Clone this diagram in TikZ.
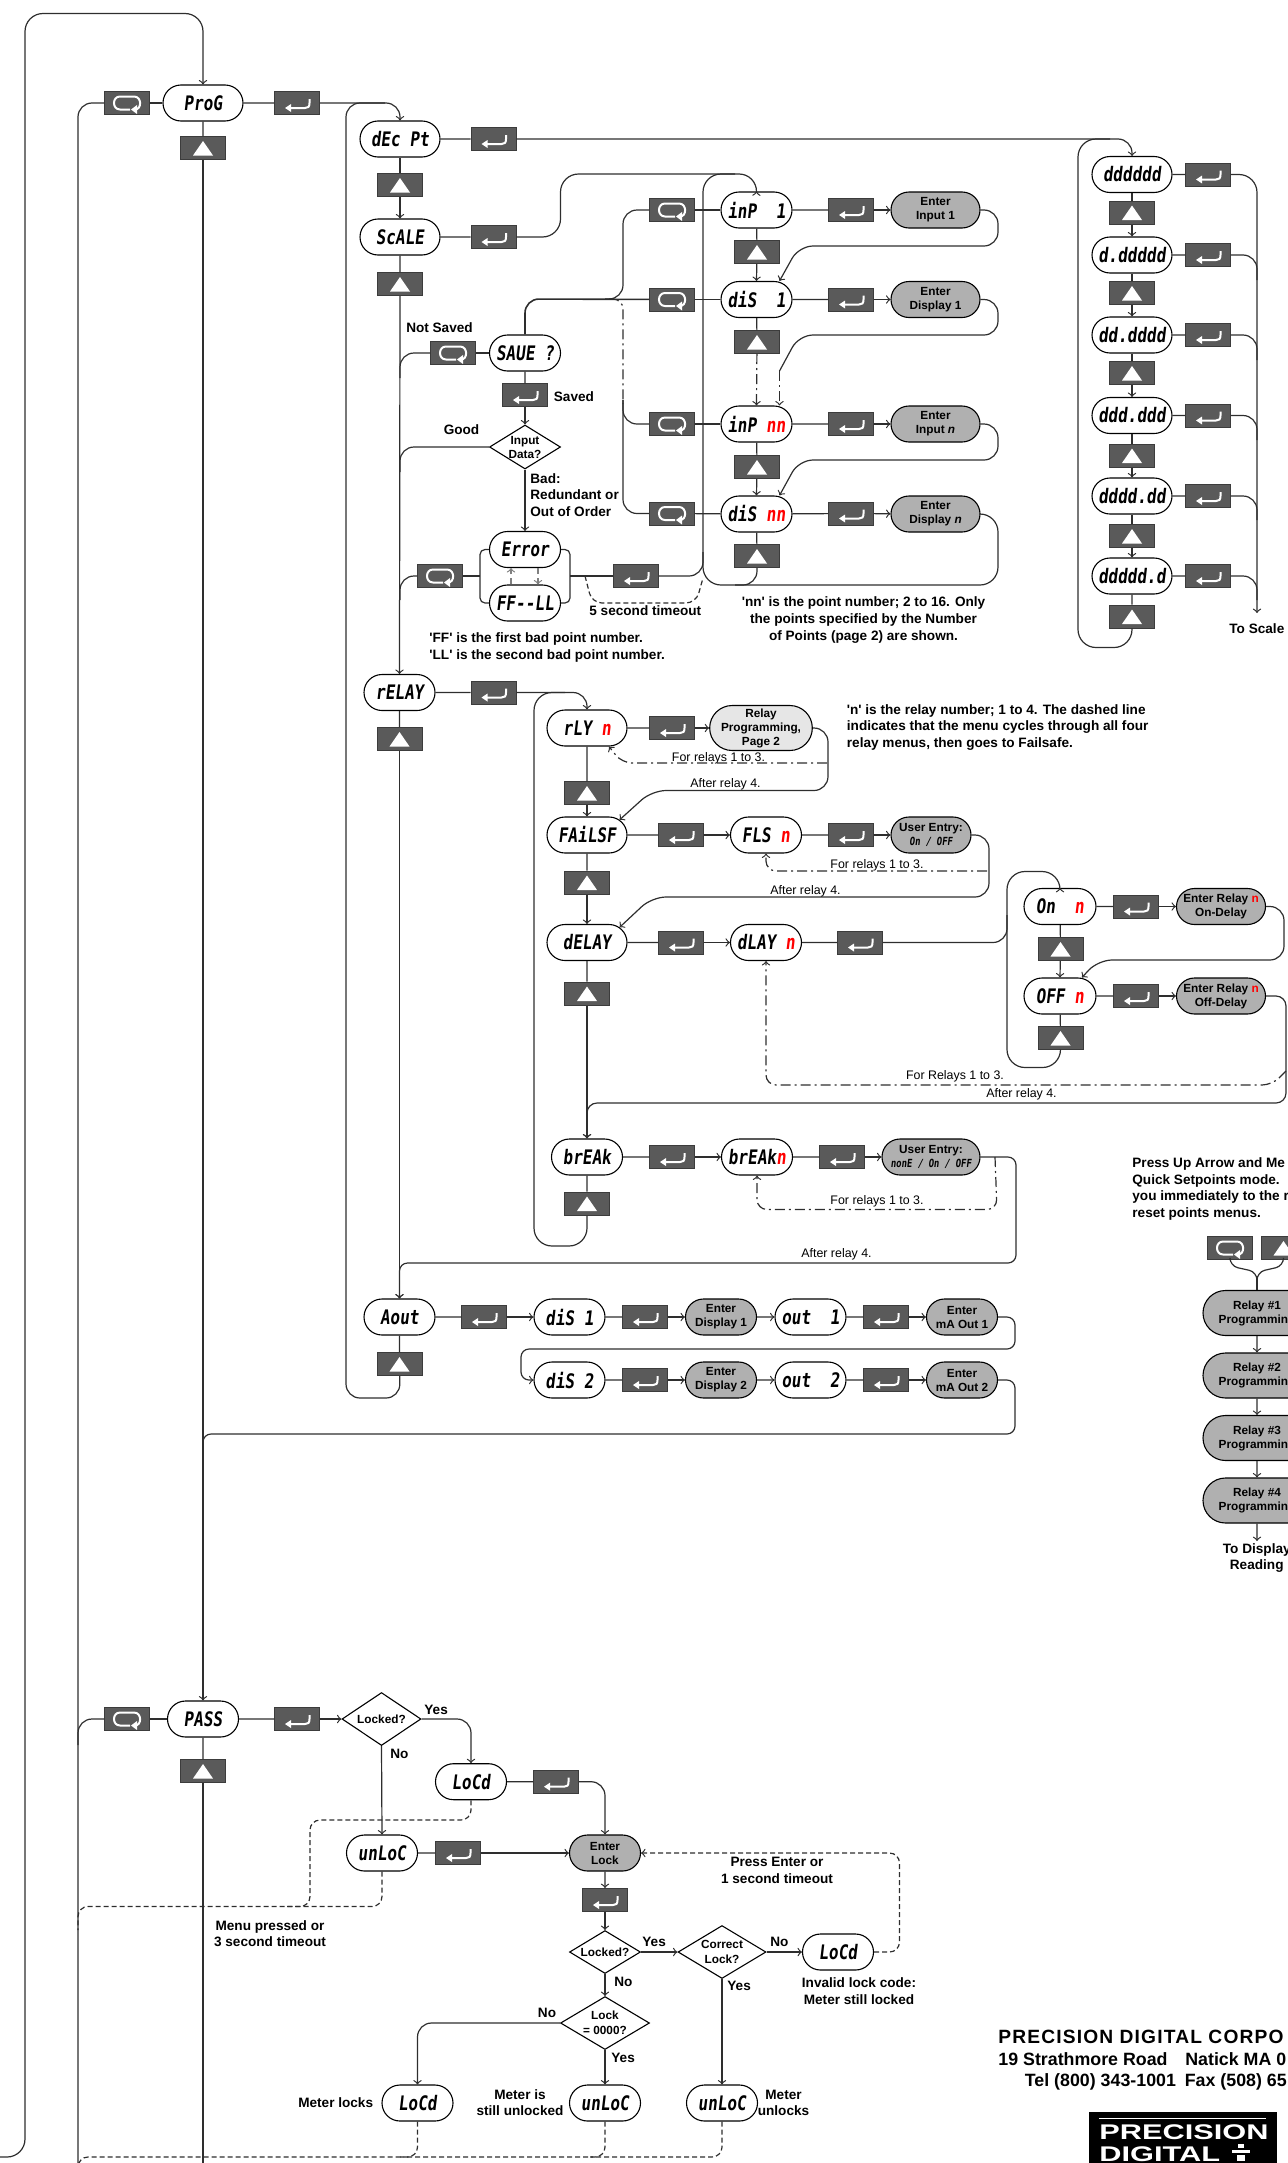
\documentclass[tikz,border=0pt]{standalone}
\usepackage{fontspec}
\setmainfont{Liberation Sans}
\newfontfamily\lcdfont[FakeSlant=0.12,FakeStretch=0.8]{DejaVu Sans Mono}
\newfontfamily\logofont[FakeStretch=1.45]{Liberation Sans}
\newfontfamily\corpfont[LetterSpace=6]{Liberation Sans}
\usetikzlibrary{shapes.misc,shapes.geometric}
\definecolor{keygray}{HTML}{5A5A5A}
\definecolor{keyedge}{HTML}{3C3C3C}
\definecolor{pillgray}{HTML}{B0B0B0}
\definecolor{pilllight}{HTML}{E6E6E6}
\definecolor{linegray}{HTML}{2E2E2E}
\tikzset{
    keybox/.style={draw=keyedge,fill=keygray,line width=.5pt,inner sep=0pt,minimum width=22.5pt,minimum height=11.5pt},
    enterkey/.style={keybox,path picture={\begin{scope}[shift={(path picture bounding box.center)}]
        \draw[white,line width=1pt] (12.5,-4) -- (12.5,0) .. controls (12.5,4) and (11,5) .. (8,5) -- (-7,5);
        \fill[white] (-12,5) -- (-6,1) -- (-6,9) -- cycle;
        \end{scope}}},
    menukey/.style={keybox,path picture={\begin{scope}[shift={(path picture bounding box.center)}]
        \draw[white,line width=1pt] (3,6.5) -- (-7,6.5) .. controls (-15,6.5) and (-15,-6.5) .. (-7,-6.5) -- (7,-6.5) .. controls (15,-6.5) and (15,6.5) .. (8,6.5);
        \fill[white] (4,6.5) -- (10,2) -- (10,11) -- cycle;
        \end{scope}}},
    upkey/.style={keybox,path picture={\begin{scope}[shift={(path picture bounding box.center)}]
        \fill[white] (-10,7.5) -- (10,7.5) -- (0,-7) -- cycle;
        \end{scope}}},
    pill/.style={draw=black,fill=white,line width=.55pt,rounded rectangle,inner sep=0pt,minimum width=35.5pt,minimum height=18pt,font=\lcdfont\bfseries\fontsize{10}{10}\selectfont},
    pillwide/.style={pill,minimum width=40pt},
    entry/.style={draw=black,fill=pillgray,line width=.55pt,rounded rectangle,inner sep=0pt,minimum width=44.5pt,minimum height=18pt,align=center,font=\bfseries\fontsize{5.9}{7}\selectfont},
    decision/.style={draw=black,fill=white,line width=.55pt,diamond,inner sep=0pt},
    note/.style={inner sep=0pt,align=center,font=\bfseries\fontsize{6.8}{8.3}\selectfont},
    noteleft/.style={note,anchor=west,align=left},
    smalltext/.style={inner sep=0pt,font=\fontsize{6.2}{7}\selectfont},
    conn/.style={draw=linegray,line width=.6pt},
    bendconn/.style={conn,rounded corners=7pt},
    dotconn/.style={bendconn,rounded corners=5pt,dash pattern=on 5pt off 2pt on 1pt off 2pt},
    dashconn/.style={bendconn,rounded corners=5pt,dash pattern=on 2.5pt off 1.5pt}
}
\newcommand{\lcdsmall}{\lcdfont\fontsize{5.6}{7}\selectfont}
\newcommand{\qs}{\textquotesingle}
\begin{document}
\begin{tikzpicture}[x=.5pt,y=-.5pt]
    \useasboundingbox (0,0) rectangle (1287,2163);
    %Program entry and left column
    \node[pillwide] (prog) at (203,103) {ProG};
    \node[menukey] (mnuprog) at (127,103) {};
    \node[enterkey] (entprog) at (297,103) {};
    \node[upkey] (upprog) at (203,148) {};
    \node[pillwide] (decpt) at (400,139) {dEc~Pt};
    \node[enterkey] (entdec) at (493.5,139) {};
    \node[upkey] (updec) at (400,185) {};
    \node[pillwide] (scale) at (400,237) {ScALE};
    \node[enterkey] (entscale) at (493.5,237) {};
    \node[upkey] (upscale) at (400,284) {};
    \node[pill] (save) at (525,353) {SAUE~?};
    \node[menukey] (mnusave) at (453,353) {};
    \node[enterkey] (entsave) at (525,395) {};
    \node[decision,minimum width=35.5pt,minimum height=22pt,label={[note,font=\bfseries\fontsize{5.9}{7}\selectfont]center:Input\\Data?}] (inputq) at (525,447) {};
    \node[pill] (error) at (525,549.5) {Error};
    \node[pill] (ffll) at (525,603) {FF--LL};
    \node[menukey] (mnuerr) at (440,576) {};
    \node[enterkey] (enterr) at (636,576) {};
    \coordinate (brleft) at (480,576);
    \coordinate (brright) at (570,576);

    %Scale points
    \node[pill] (inpone) at (756.5,210) {inP~~1};
    \node[pill] (disone) at (756.5,299.5) {diS~~1};
    \node[pill] (inpnn) at (756.5,424) {inP~\textcolor{red}{nn}};
    \node[pill] (disnn) at (756.5,514) {diS~\textcolor{red}{nn}};
    \node[menukey] (mnuinpone) at (672,210) {};
    \node[menukey] (mnudisone) at (672,299.5) {};
    \node[menukey] (mnuinpnn) at (672,424) {};
    \node[menukey] (mnudisnn) at (672,513.5) {};
    \node[enterkey] (entinpone) at (851,210) {};
    \node[enterkey] (entdisone) at (851,299.5) {};
    \node[enterkey] (entinpnn) at (851,424) {};
    \node[enterkey] (entdisnn) at (851,513.5) {};
    \node[entry] (ginpone) at (935.5,210) {Enter\\Input 1};
    \node[entry] (gdisone) at (935.5,299.5) {Enter\\Display 1};
    \node[entry] (ginpnn) at (935.5,424) {Enter\\Input \textit{n}};
    \node[entry] (gdisnn) at (935.5,514) {Enter\\Display \textit{n}};
    \node[upkey] (upinpone) at (757,252) {};
    \node[upkey] (updisone) at (757,342) {};
    \node[upkey] (upinpnn) at (757,467) {};
    \node[upkey] (updisnn) at (757,556) {};
    \coordinate (midpoint) at (779.5,371);

    %Decimal point column
    \node[pillwide] (dpa) at (1132,174.5) {dddddd};
    \node[pillwide] (dpb) at (1132,255) {d.ddddd};
    \node[pillwide] (dpc) at (1132,335) {dd.dddd};
    \node[pillwide] (dpd) at (1132,415.5) {ddd.ddd};
    \node[pillwide] (dpe) at (1132,496) {dddd.dd};
    \node[pillwide] (dpf) at (1132,576) {ddddd.d};
    \node[upkey] (updpa) at (1132,212.5) {};
    \node[upkey] (updpb) at (1132,293) {};
    \node[upkey] (updpc) at (1132,373) {};
    \node[upkey] (updpd) at (1132,455.5) {};
    \node[upkey] (updpe) at (1132,536) {};
    \node[upkey] (updpf) at (1132,616.5) {};
    \node[enterkey] (entdpa) at (1208,174.5) {};
    \node[enterkey] (entdpb) at (1208,255) {};
    \node[enterkey] (entdpc) at (1208,335) {};
    \node[enterkey] (entdpd) at (1208,415.5) {};
    \node[enterkey] (entdpe) at (1208,496) {};
    \node[enterkey] (entdpf) at (1208,576) {};
    \coordinate (scaleout) at (1257,613);

    %Relay menus
    \node[pill] (relay) at (399.5,692.5) {rELAY};
    \node[enterkey] (entrelay) at (493.5,692.5) {};
    \node[upkey] (uprelay) at (399.5,739) {};
    \node[pillwide] (rly) at (587,728) {rLY~\textcolor{red}{n}};
    \node[enterkey] (entrly) at (672,728) {};
    \node[entry,fill=pilllight,minimum width=49.5pt,minimum height=22.5pt] (gprog) at (761,728) {Relay\\Programming,\\Page 2};
    \node[upkey] (uprly) at (587,793) {};
    \node[pillwide] (fail) at (587,835) {FAiLSF};
    \node[enterkey] (entfail) at (681,835) {};
    \node[pill] (fls) at (766,835) {FLS~\textcolor{red}{n}};
    \node[enterkey] (entfls) at (851,835) {};
    \node[entry,minimum width=40pt] (guserone) at (931,835) {User Entry:\\{\lcdsmall\bfseries On / OFF}};
    \node[upkey] (upfail) at (587,882.5) {};
    \node[pillwide] (delay) at (587,942.5) {dELAY};
    \node[enterkey] (entdelay) at (681,942.5) {};
    \node[pill] (dlay) at (766,942.5) {dLAY~\textcolor{red}{n}};
    \node[enterkey] (entdlay) at (860,942.5) {};
    \node[upkey] (updelay) at (587,993.5) {};
    \node[pillwide,minimum width=36pt] (on) at (1060,906.5) {On~~\textcolor{red}{n}};
    \node[enterkey] (enton) at (1136,906.5) {};
    \node[entry] (gon) at (1221,906.5) {Enter Relay \textcolor{red}{n}\\On-Delay};
    \node[upkey] (upon) at (1060.5,949) {};
    \node[pillwide,minimum width=36pt] (off) at (1060,996) {OFF~\textcolor{red}{n}};
    \node[enterkey] (entoff) at (1136,996) {};
    \node[entry] (goff) at (1221,996) {Enter Relay \textcolor{red}{n}\\Off-Delay};
    \node[upkey] (upoff) at (1060.5,1038) {};
    \node[pill] (breaky) at (587,1157) {brEAk};
    \node[enterkey] (entbreak) at (672,1157) {};
    \node[pill] (brk) at (757,1157) {brEAk\textcolor{red}{n}};
    \node[enterkey] (entbrk) at (842,1157) {};
    \node[entry,minimum width=49pt] (gusertwo) at (931,1157) {User Entry:\\{\lcdsmall\bfseries nonE / On / OFF}};
    \node[upkey] (upbreak) at (587,1203.5) {};

    %Analog output
    \node[pill] (aout) at (399.5,1317) {Aout};
    \node[enterkey] (entaout) at (484,1317) {};
    \node[upkey] (upaout) at (399.5,1364) {};
    \node[pill] (disa) at (569.5,1317) {diS~1};
    \node[enterkey] (entdisa) at (645,1317) {};
    \node[entry,minimum width=35.5pt] (gdisa) at (721,1317) {Enter\\Display 1};
    \node[pill] (outa) at (810.5,1317) {out~~1};
    \node[enterkey] (entouta) at (886,1317) {};
    \node[entry,minimum width=35.5pt] (gmaone) at (962,1317) {Enter\\mA Out 1};
    \node[pill] (disb) at (569.5,1380) {diS~2};
    \node[enterkey] (entdisb) at (645,1380) {};
    \node[entry,minimum width=35.5pt] (gdisb) at (721,1380) {Enter\\Display 2};
    \node[pill] (outb) at (810.5,1380) {out~~2};
    \node[enterkey] (entoutb) at (886,1380) {};
    \node[entry,minimum width=35.5pt] (gmatwo) at (962,1380) {Enter\\mA Out 2};

    %Password
    \node[pill] (pass) at (203,1719) {PASS};
    \node[menukey] (mnupass) at (127,1719) {};
    \node[enterkey] (entpass) at (297,1719) {};
    \node[upkey] (uppass) at (203,1771) {};
    \node[decision,minimum width=39.5pt,minimum height=26.5pt,label={[note,font=\bfseries\fontsize{5.9}{7}\selectfont]center:Locked?}] (lockq) at (381.5,1719) {};
    \node[pill] (lockd) at (471,1781.7) {LoCd};
    \node[enterkey] (entlockd) at (556,1781.7) {};
    \node[pill] (unlock) at (382,1853) {unLoC};
    \node[enterkey] (entunlock) at (458,1853) {};
    \node[entry,minimum width=35.5pt] (enterlock) at (605,1853) {Enter\\Lock};
    \node[enterkey] (entlock) at (605,1900) {};
    \node[decision,minimum width=35.5pt,minimum height=21.5pt,label={[note,font=\bfseries\fontsize{5.9}{7}\selectfont]center:Locked?}] (lockqb) at (605,1952) {};
    \node[decision,minimum width=44.5pt,minimum height=26.5pt,label={[note,font=\bfseries\fontsize{5.9}{7.5}\selectfont]center:Lock\\= 0000?}] (zeroq) at (605,2023) {};
    \node[decision,minimum width=44pt,minimum height=26.5pt,label={[note,font=\bfseries\fontsize{5.9}{7.5}\selectfont]center:Correct\\Lock?}] (correctq) at (722,1952) {};
    \node[pill] (lockdc) at (838,1952) {LoCd};
    \node[pill] (lockdb) at (417.5,2103) {LoCd};
    \node[pill] (unlockb) at (605,2103) {unLoC};
    \node[pill] (unlockc) at (722,2103) {unLoC};

    %Quick setpoints
    \node[menukey] (mnuquick) at (1230,1248) {};
    \node[upkey] (upquick) at (1283.5,1248) {};
    \node[entry,minimum width=54pt,minimum height=22.5pt] (relone) at (1257,1313) {Relay \#1\\Programmin\phantom{g}};
    \node[entry,minimum width=54pt,minimum height=22.5pt] (reltwo) at (1257,1375.5) {Relay \#2\\Programmin\phantom{g}};
    \node[entry,minimum width=54pt,minimum height=22.5pt] (relthree) at (1257,1438) {Relay \#3\\Programmin\phantom{g}};
    \node[entry,minimum width=54pt,minimum height=22.5pt] (relfour) at (1257,1500.5) {Relay \#4\\Programmin\phantom{g}};
    \coordinate (display) at (1257,1541);
    \coordinate (quickjoin) at (1257,1277);

    %Free ends
    \coordinate (outerend) at (0,2157);
    \coordinate (menubus) at (78,2163);
    \coordinate (passbus) at (203,2163);

    %Connectors, top loop and left column
    \draw[bendconn,rounded corners=9pt,->] (outerend) -- (25,2157) -- (25,13.5) -- (203,13.5) -- (prog.north);
    \draw[conn] (prog) -- (mnuprog);
    \draw[bendconn] (mnuprog) -- (78,103) -- (menubus);
    \draw[conn] (prog) -- (entprog);
    \draw[conn] (prog) -- (upprog);
    \draw[conn,->] (upprog) -- (pass.north);
    \draw[bendconn,->] (entprog) -- (400,103) -- (decpt.north);
    \draw[bendconn] (upaout) -- (400,1398) -- (346,1398) -- (346,103) -- (385,103);
    \draw[conn] (decpt) -- (entdec);
    \draw[bendconn,->] (entdec) -- (1132,139) -- (dpa.north);
    \draw[conn] (decpt) -- (updec);
    \draw[conn,->] (updec) -- (scale.north);
    \draw[conn] (scale) -- (entscale);
    \draw[bendconn,rounded corners=9pt,->] (entscale) -- (560.5,237) -- (560.5,174) -- (757,174) -- (inpone.north);
    \draw[conn] (scale) -- (upscale);
    \draw[conn,->] (upscale) -- (relay.north);
    \draw[conn] (relay) -- (uprelay);
    \draw[conn,->] (uprelay) -- (aout.north);

    %Connectors, scale save
    \draw[bendconn,line width=.8pt] (save) -- (525,299) -- (mnudisone);
    \draw[bendconn] (mnuinpone) -- (623,210) -- (623,299) -- (605,299);
    \draw[dotconn] (609,299) -- (623,299) -- (623,404);
    \draw[bendconn] (623,400) -- (623,424) -- (mnuinpnn);
    \draw[bendconn] (623,400) -- (623,513.5) -- (mnudisnn);
    \draw[conn] (save) -- (mnusave);
    \draw[bendconn] (mnusave) -- (400,353) -- (400,378);
    \draw[conn] (save) -- (entsave);
    \draw[conn,->] (entsave) -- (inputq.north);
    \draw[conn,->] (inputq) -- (error.north);
    \draw[bendconn] (inputq) -- (400,447) -- (400,472);
    \draw[bendconn,rounded corners=2.5pt] (error.west) -- (480,549.5) -- (480,603) -- (ffll.west);
    \draw[bendconn,rounded corners=2.5pt] (error.east) -- (570,549.5) -- (570,603) -- (ffll.east);
    \draw[conn] (mnuerr) -- (brleft);
    \draw[bendconn] (mnuerr) -- (400,576) -- (400,600);
    \draw[conn] (brright) -- (enterr);
    \draw[bendconn] (enterr) -- (703,576) -- (703,552);
    \draw[dashconn] (585,576) -- (592,603) -- (696,603) -- (703,578);
    \draw[conn,gray,densely dashed,->] ([xshift=-7pt]ffll.north) -- ([xshift=-7pt]error.south);
    \draw[conn,gray,densely dashed,->] ([xshift=6.5pt]error.south) -- ([xshift=6.5pt]ffll.north);

    %Connectors, scale points
    \draw[conn] (mnuinpone) -- (inpone);
    \draw[conn] (mnudisone) -- (disone);
    \draw[conn] (mnuinpnn) -- (inpnn);
    \draw[conn] (mnudisnn) -- (disnn);
    \draw[conn] (inpone) -- (entinpone);
    \draw[conn] (disone) -- (entdisone);
    \draw[conn] (inpnn) -- (entinpnn);
    \draw[conn] (disnn) -- (entdisnn);
    \draw[conn,->] (entinpone) -- (ginpone);
    \draw[conn,->] (entdisone) -- (gdisone);
    \draw[conn,->] (entinpnn) -- (ginpnn);
    \draw[conn,->] (entdisnn) -- (gdisnn);
    \draw[conn] (inpone) -- (upinpone);
    \draw[conn,->] (upinpone) -- (disone.north);
    \draw[conn] (disone) -- (updisone);
    \draw[dotconn,->] (updisone) -- (inpnn.north);
    \draw[conn] (inpnn) -- (upinpnn);
    \draw[conn,->] (upinpnn) -- (disnn.north);
    \draw[conn] (disnn) -- (updisnn);
    \draw[bendconn] (updisnn) -- (757,585) -- (735,585);
    \draw[bendconn,->] (ginpone.east) -- (998,210) -- (998,246) -- (799,246) -- ([xshift=11.5pt]disone.north);
    \draw[bendconn] (gdisone.east) -- (998,299.5) -- (998,335) -- (799,335) -- (midpoint);
    \draw[dotconn,->] (midpoint) -- ([xshift=11.5pt]inpnn.north);
    \draw[bendconn,->] (ginpnn.east) -- (998,424) -- (998,460) -- (799,460) -- ([xshift=11.5pt]disnn.north);
    \draw[bendconn,rounded corners=9pt] (gdisnn.east) -- (998,514) -- (998,585) -- (703,585) -- (703,174) -- (735,174);

    %Connectors, decimal point column
    \draw[conn] (dpa) -- (updpa);
    \draw[conn,->] (updpa) -- (dpb.north);
    \draw[conn] (dpb) -- (updpb);
    \draw[conn,->] (updpb) -- (dpc.north);
    \draw[conn] (dpc) -- (updpc);
    \draw[conn,->] (updpc) -- (dpd.north);
    \draw[conn] (dpd) -- (updpd);
    \draw[conn,->] (updpd) -- (dpe.north);
    \draw[conn] (dpe) -- (updpe);
    \draw[conn,->] (updpe) -- (dpf.north);
    \draw[conn] (dpf) -- (updpf);
    \draw[conn] (dpa) -- (entdpa);
    \draw[conn] (dpb) -- (entdpb);
    \draw[conn] (dpc) -- (entdpc);
    \draw[conn] (dpd) -- (entdpd);
    \draw[conn] (dpe) -- (entdpe);
    \draw[conn] (dpf) -- (entdpf);
    \draw[bendconn,rounded corners=9pt,->] (entdpa) -- (1257,174.5) -- (scaleout);
    \draw[bendconn] (entdpb) -- (1257,255) -- (1257,280);
    \draw[bendconn] (entdpc) -- (1257,335) -- (1257,360);
    \draw[bendconn] (entdpd) -- (1257,415.5) -- (1257,440);
    \draw[bendconn] (entdpe) -- (1257,496) -- (1257,520);
    \draw[bendconn] (entdpf) -- (1257,576) -- (1257,600);
    \draw[bendconn,rounded corners=9pt] (updpf) -- (1132,647.5) -- (1078,647.5) -- (1078,139) -- (1110,139);

    %Connectors, relay menus
    \draw[conn] (relay) -- (entrelay);
    \draw[bendconn,->] (entrelay) -- (587,692.5) -- (rly.north);
    \draw[bendconn,rounded corners=9pt] (upbreak) -- (587,1246) -- (534,1246) -- (534,692.5) -- (565,692.5);
    \draw[conn] (rly) -- (uprly);
    \draw[conn,->] (uprly) -- (fail.north);
    \draw[conn] (fail) -- (upfail);
    \draw[conn,->] (upfail) -- (delay.north);
    \draw[conn] (delay) -- (updelay);
    \draw[conn,->] (updelay) -- (breaky.north);
    \draw[conn] (breaky) -- (upbreak);
    \draw[conn] (rly) -- (entrly);
    \draw[conn,->] (entrly) -- (gprog);
    \draw[bendconn,->] (gprog.east) -- (828,728) -- (828,790.5) -- (652,790.5) -- (fail.25);
    \draw[dotconn,->] (827,763) -- (622,763) -- ([xshift=11pt]rly.south);
    \draw[conn] (fail) -- (entfail);
    \draw[conn,->] (entfail) -- (fls);
    \draw[conn] (fls) -- (entfls);
    \draw[conn,->] (entfls) -- (guserone);
    \draw[bendconn,->] (guserone.east) -- (989,835) -- (989,897) -- (652,897) -- (delay.25);
    \draw[dotconn,->] (987,871) -- (766,871) -- (fls.south);
    \draw[conn] (delay) -- (entdelay);
    \draw[conn,->] (entdelay) -- (dlay);
    \draw[conn] (dlay) -- (entdlay);
    \draw[bendconn] (entdlay) -- (1007,942.5) -- (1007,915);
    \draw[bendconn,rounded corners=9pt,->] (upoff) -- (1060.5,1067.5) -- (1007,1067.5) -- (1007,871.5) -- (1060,871.5) -- (on.north);
    \draw[conn] (on) -- (upon);
    \draw[conn,->] (upon) -- (off.north);
    \draw[conn] (off) -- (upoff);
    \draw[conn] (on) -- (enton);
    \draw[conn,->] (enton) -- (gon);
    \draw[conn] (off) -- (entoff);
    \draw[conn,->] (entoff) -- (goff);
    \draw[bendconn,->] (gon.east) -- (1284,906.5) -- (1284,960) -- (1098,960) -- ([xshift=11pt]off.north);
    \draw[bendconn,rounded corners=5pt,->] (goff.east) -- (1286,996) -- (1286,1103) -- (587,1103) -- (breaky.north);
    \draw[dotconn,->] (1286,1071) -- (1272,1085) -- (766,1085) -- (dlay.south);
    \draw[conn] (breaky) -- (entbreak);
    \draw[conn,->] (entbreak) -- (brk);
    \draw[conn] (brk) -- (entbrk);
    \draw[conn,->] (entbrk) -- (gusertwo);
    \draw[bendconn,rounded corners=4pt,->] (gusertwo.east) -- (1016,1157) -- (1016,1263) -- (399.5,1263) -- (aout.north);
    \draw[dotconn,->] (995,1157) -- (997,1209.5) -- (757,1209.5) -- (brk.south);

    %Connectors, analog output
    \draw[conn] (aout) -- (entaout);
    \draw[conn,->] (entaout) -- (disa);
    \draw[conn] (disa) -- (entdisa);
    \draw[conn,->] (entdisa) -- (gdisa);
    \draw[conn,->] (gdisa) -- (outa);
    \draw[conn] (outa) -- (entouta);
    \draw[conn,->] (entouta) -- (gmaone);
    \draw[conn] (aout) -- (upaout);
    \draw[bendconn,rounded corners=4pt,->] (gmaone.east) -- (1015,1317) -- (1015,1349) -- (521,1349) -- (521,1380) -- (disb.west);
    \draw[conn] (disb) -- (entdisb);
    \draw[conn,->] (entdisb) -- (gdisb);
    \draw[conn,->] (gdisb) -- (outb);
    \draw[conn] (outb) -- (entoutb);
    \draw[conn,->] (entoutb) -- (gmatwo);
    \draw[bendconn,rounded corners=4pt] (gmatwo.east) -- (1015,1380) -- (1015,1434) -- (203,1434) -- (203,1470);

    %Connectors, password
    \draw[conn] (pass) -- (mnupass);
    \draw[bendconn] (mnupass) -- (78,1719) -- (78,1745);
    \draw[conn] (pass) -- (uppass);
    \draw[conn] (uppass) -- (passbus);
    \draw[conn] (pass) -- (entpass);
    \draw[conn,->] (entpass) -- (lockq);
    \draw[bendconn,->] (lockq.east) -- (471,1719) -- (lockd.north);
    \draw[conn,->] (lockq.south) -- (unlock.north);
    \draw[conn] (lockd) -- (entlockd);
    \draw[bendconn,->] (entlockd) -- (605,1781.7) -- (enterlock.north);
    \draw[conn] (unlock) -- (entunlock);
    \draw[conn,->] (entunlock) -- (enterlock);
    \draw[conn,->] (enterlock) -- (entlock);
    \draw[conn,->] (entlock) -- (lockqb.north);
    \draw[conn,->] (lockqb.south) -- (zeroq.north);
    \draw[conn,->] (lockqb.east) -- (correctq.west);
    \draw[conn,->] (correctq.east) -- (lockdc.west);
    \draw[conn,->] (correctq.south) -- (unlockc.north);
    \draw[bendconn,->] (zeroq.west) -- (417.5,2023) -- (lockdb.north);
    \draw[conn,->] (zeroq.south) -- (unlockb.north);
    \draw[dashconn,->] (lockdc.east) -- (899.5,1952) -- (899.5,1853) -- (enterlock.east);
    \draw[dashconn] (lockd.south) -- (471,1820) -- (310,1820) -- (310,1906.5) -- (285,1906.5);
    \draw[dashconn] (unlock.south) -- (382,1906.5) -- (78,1906.5) -- (78,1930);
    \draw[dashconn] (lockdb.south) -- (417.5,2157) -- (78,2157) -- (78,2170);
    \draw[dashconn] (unlockb.south) -- (605,2157) -- (400,2157);
    \draw[dashconn] (unlockc.south) -- (722,2157) -- (590,2157);

    %Connectors, quick setpoints
    \draw[bendconn,rounded corners=4pt] (mnuquick.south) -- (1230,1266) -- (1257,1272) -- (quickjoin);
    \draw[bendconn,rounded corners=4pt] (upquick.south) -- (1283.5,1266) -- (1257,1272) -- (quickjoin);
    \draw[conn,line width=1pt] (quickjoin) -- (relone.north);
    \draw[conn,->] (relone) -- (reltwo.north);
    \draw[conn,->] (reltwo) -- (relthree.north);
    \draw[conn,->] (relthree) -- (relfour.north);
    \draw[conn,->] (relfour) -- (display);

    %Labels
    \node[note] (notsaved) at (439.5,328) {Not Saved};
    \node[noteleft] (saved) at (553.5,397) {Saved};
    \node[note] (good) at (461.5,430) {Good};
    \node[noteleft] (bad) at (530,495) {Bad:\\Redundant or\\Out of Order};
    \node[noteleft] (timeout) at (589,611) {5 second timeout};
    \node[noteleft] (ffnote) at (429,647.5) {\qs FF\qs{} is the first bad point number.\\\qs LL\qs{} is the second bad point number.};
    \node[note] (nnnote) at (863.5,620) {\qs nn\qs{} is the point number; 2 to 16. Only\\the points specified by the Number\\of Points (page 2) are shown.};
    \node[noteleft] (toscale) at (1229,629) {To Scale};
    \node[noteleft] (relnote) at (846.5,727.5) {\qs n\qs{} is the relay number; 1 to 4. The dashed line\\indicates that the menu cycles through all four\\relay menus, then goes to Failsafe.};
    \node[smalltext] (fora) at (718.5,758) {For relays 1 to 3.};
    \node[smalltext] (aftera) at (725.5,784) {After relay 4.};
    \node[smalltext] (forb) at (877,865) {For relays 1 to 3.};
    \node[smalltext] (afterb) at (805.5,891) {After relay 4.};
    \node[smalltext] (forc) at (955,1076) {For Relays 1 to 3.};
    \node[smalltext] (afterc) at (1021.5,1094) {After relay 4.};
    \node[smalltext] (ford) at (877,1201) {For relays 1 to 3.};
    \node[smalltext] (afterd) at (836.5,1254.5) {After relay 4.};
    \node[noteleft] (quicknote) at (1132,1189) {Press Up Arrow and Me\\Quick Setpoints mode.\\you immediately to the r\\reset points menus.};
    \node[noteleft] (todisplay) at (1222.5,1558) {To Display\\\hspace*{3.5pt}Reading};
    \node[noteleft] (yesa) at (424,1710) {Yes};
    \node[noteleft] (noa) at (390,1754) {No};
    \node[note] (menunote) at (270,1933.5) {Menu pressed or\\3 second timeout};
    \node[noteleft] (yesb) at (642,1942) {Yes};
    \node[noteleft] (nob) at (770,1942) {No};
    \node[noteleft] (noc) at (614,1982) {No};
    \node[note] (pressnote) at (777,1870.5) {Press Enter or\\1 second timeout};
    \node[noteleft] (yesc) at (727,1986) {Yes};
    \node[note] (invalid) at (859,1991) {Invalid lock code:\\Meter still locked};
    \node[note] (nod) at (547,2013) {No};
    \node[noteleft] (yesd) at (611,2058) {Yes};
    \node[note,anchor=east] (locks) at (373.5,2103) {Meter locks};
    \node[note] (still) at (520,2102.5) {Meter is\\still unlocked};
    \node[note] (unlocks) at (783.5,2103) {Meter\\unlocks};

    %Company block
    \node[noteleft,font=\corpfont\bfseries\fontsize{9.6}{10}\selectfont] (corp) at (998,2036.5) {PRECISION DIGITAL CORPO};
    \node[noteleft,font=\bfseries\fontsize{8.9}{10}\selectfont] (street) at (998,2059) {19 Strathmore Road\quad Natick MA 0};
    \node[noteleft,font=\bfseries\fontsize{8.9}{10}\selectfont] (phone) at (1024.5,2081.5) {Tel (800) 343-1001\enspace Fax (508) 65};
    \fill[black] (1089,2111.5) rectangle (1277,2163);
    \draw[white,line width=.4pt] (1099,2118) -- (1266,2118);
    \node[noteleft,text=white,font=\logofont\bfseries\fontsize{10.6}{11}\selectfont] (logoa) at (1099,2132) {PRECISION};
    \node[noteleft,text=white,font=\logofont\bfseries\fontsize{10.6}{11}\selectfont] (logob) at (1099,2154) {DIGITAL};
    \fill[white] (1238,2144) rectangle (1244,2148);
    \fill[white] (1232,2150) rectangle (1250,2153);
    \fill[white] (1237,2155) rectangle (1245,2161);
\end{tikzpicture}
\end{document}
